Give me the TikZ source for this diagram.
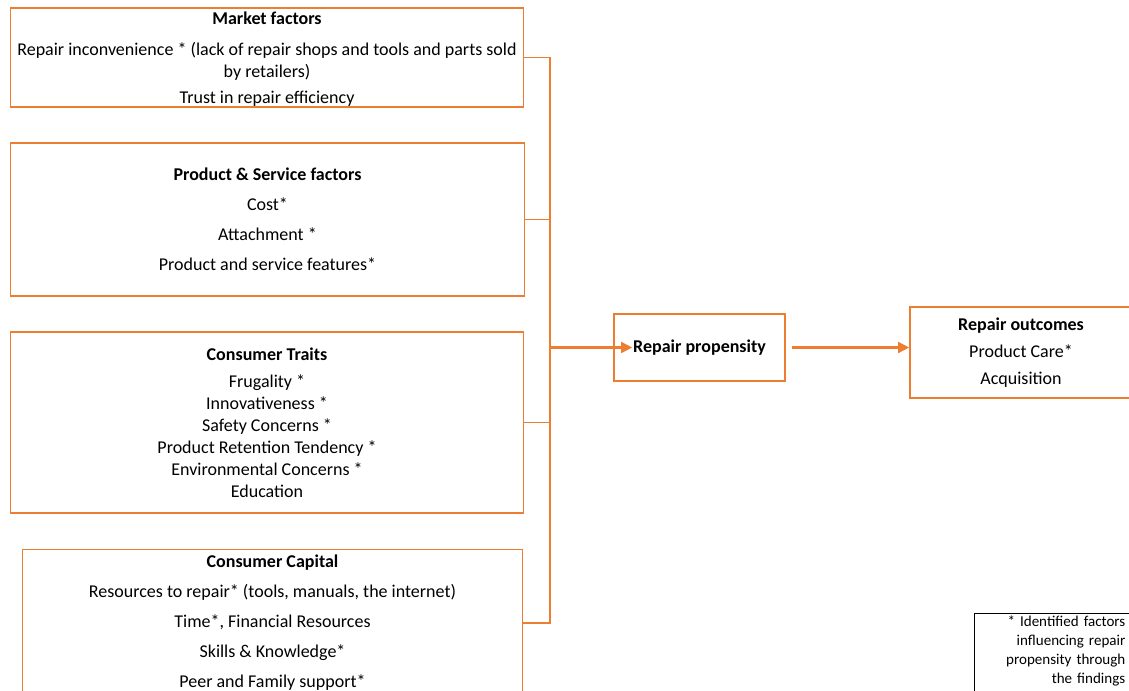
\documentclass[tikz,border=0pt]{standalone}
\usepackage{fontspec}
\setmainfont{Carlito}
\usetikzlibrary{arrows.meta,positioning}
\definecolor{RepOrange}{HTML}{ED7D31}

\begin{document}
\begin{tikzpicture}[
  x=0.025cm, y=-0.025cm,
  factorbox/.style={draw=RepOrange, line width=0.8pt, align=center, inner sep=0pt, font=\fontsize{12.8}{15.6}\selectfont},
  link/.style={draw=RepOrange, line width=0.9pt},
  flow/.style={-{Triangle[length=8pt,width=7.5pt]}, draw=RepOrange, fill=RepOrange, line width=2.2pt}
]
\useasboundingbox (0,0) rectangle (1129,690);
% factor groups on the left
\node[factorbox, minimum width=12.8cm, minimum height=2.475cm] (market) at (267,57.5)
  {\rule{0pt}{10.8pt}\textbf{Market factors}\\[7pt]
   Repair inconvenience * (lack of repair shops and tools and parts sold\\
   by retailers)\\[2.5pt]
   Trust in repair efficiency};
\node[factorbox, minimum width=12.825cm, minimum height=3.825cm] (product) at (267.5,219.5)
  {\textbf{Product \& Service factors}\\[5.7pt]
   Cost*\\[5.7pt]
   Attachment *\\[5.7pt]
   Product and service features*};
\node[factorbox, minimum width=12.8cm, minimum height=4.525cm] (traits) at (267,422.5)
  {\textbf{Consumer Traits}\\[3.6pt]
   Frugality *\\
   Innovativeness *\\
   Safety Concerns *\\
   Product Retention Tendency *\\
   Environmental Concerns *\\
   Education};
\node[factorbox, minimum width=12.475cm, minimum height=3.675cm] (capital) at (272.5,623)
  {\textbf{Consumer Capital}\\[5.7pt]
   Resources to repair* (tools, manuals, the internet)\\[5.7pt]
   Time*, Financial Resources\\[5.7pt]
   Skills \& Knowledge*\\[5.7pt]
   Peer and Family support*};
% propensity and outcomes
\node[factorbox, minimum width=4.275cm, minimum height=1.675cm] (propensity) at (699.5,347.5)
  {\textbf{Repair propensity}};
\node[factorbox, minimum width=5.55cm, minimum height=2.275cm] (outcomes) at (1021,352.5)
  {\textbf{Repair outcomes}\\[3.6pt]
   Product Care*\\[3.6pt]
   Acquisition};
% note (only its top and left edges are in view)
\node[anchor=north west, text width=3.625cm, align=right,
  inner xsep=0.15cm, inner ysep=2pt,
  font=\fontsize{10.7}{13.5}\selectfont] (note) at (974,613)
  {* Identified factors\\ influencing repair\\ propensity through\\ the findings\rule[-20pt]{0pt}{0pt}};
\draw[black, line width=0.5pt] (note.south west) |- ([xshift=0.5cm]note.north east);

\coordinate (join) at (550,347.5);
\draw[link] (market.east) -| (join);
\draw[link] (product.east) -| (join);
\draw[link] (traits.east) -| (join);
\draw[link] (capital.east) -| (join);
\draw[flow] (join) -- ([xshift=0.475cm]propensity.west);
\draw[flow] ([xshift=0.15cm]propensity.east) -- (propensity.east -| outcomes.west);
\end{tikzpicture}
\end{document}
